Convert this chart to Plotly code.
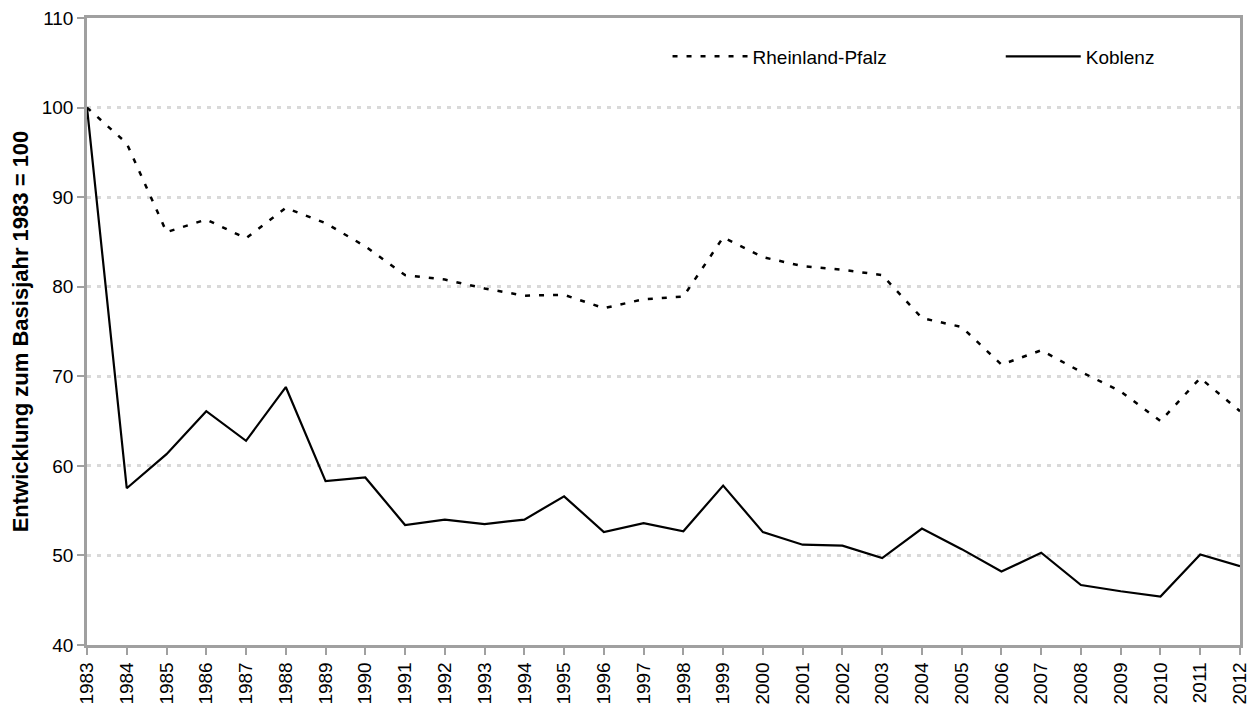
import plotly.graph_objects as go

years = list(range(1983, 2013))
rheinland_pfalz = [100, 96.0, 86.1, 87.5, 85.4, 88.8, 87.1, 84.5, 81.3, 80.8,
                   79.8, 79.0, 79.1, 77.6, 78.6, 78.9, 85.5, 83.3, 82.3, 81.9,
                   81.3, 76.5, 75.5, 71.3, 72.9, 70.5, 68.3, 65.0, 69.8, 66.1]
koblenz = [100, 57.5, 61.3, 66.1, 62.8, 68.8, 58.3, 58.7, 53.4, 54.0,
           53.5, 54.0, 56.6, 52.6, 53.6, 52.7, 57.8, 52.6, 51.2, 51.1,
           49.7, 53.0, 50.7, 48.2, 50.3, 46.7, 46.0, 45.4, 50.1, 48.8]

fig = go.Figure()
fig.add_trace(go.Scatter(x=years, y=rheinland_pfalz, mode="lines", name="Rheinland-Pfalz",
                         legend="legend",
                         line=dict(color="black", width=2.5, dash="5px,9px")))
fig.add_trace(go.Scatter(x=years, y=koblenz, mode="lines", name="Koblenz",
                         legend="legend2",
                         line=dict(color="black", width=2.2)))

font = "Liberation Sans, Arial, sans-serif"
leg_common = dict(orientation="h", yanchor="top", xanchor="left",
                  itemwidth=75, font=dict(size=19, family=font),
                  bgcolor="rgba(0,0,0,0)")
fig.update_layout(
    width=1249, height=701,
    margin=dict(l=79, r=17, t=10, b=64),
    paper_bgcolor="white", plot_bgcolor="white",
    font=dict(family=font, size=19, color="black"),
    showlegend=True,
    legend=dict(x=0.5035, y=0.969, **leg_common),
    legend2=dict(x=0.7925, y=0.969, **leg_common),
    xaxis=dict(range=[1983, 2012], tickmode="linear", tick0=1983, dtick=1,
               tickangle=-90, showgrid=False, zeroline=False, automargin=False,
               showline=True, linecolor="#a0a0a0", linewidth=2.5, mirror=True,
               ticks="outside", ticklen=7, tickcolor="#a0a0a0", tickwidth=2,
               ticklabeloverflow="allow",
               tickfont=dict(size=19)),
    yaxis=dict(range=[40, 110], tickmode="linear", tick0=40, dtick=10,
               showgrid=True, gridcolor="#d9d9d9", griddash="4px,6px", gridwidth=2.5,
               zeroline=False, automargin=False,
               showline=True, linecolor="#a0a0a0", linewidth=2.5, mirror=True,
               ticks="outside", ticklen=7, tickcolor="#a0a0a0", tickwidth=2,
               ticklabeloverflow="allow",
               tickfont=dict(size=19),
               title=dict(text="<b>Entwicklung zum Basisjahr 1983 = 100</b>",
                          font=dict(size=22), standoff=11)),
)
fig.write_html("out.html")
